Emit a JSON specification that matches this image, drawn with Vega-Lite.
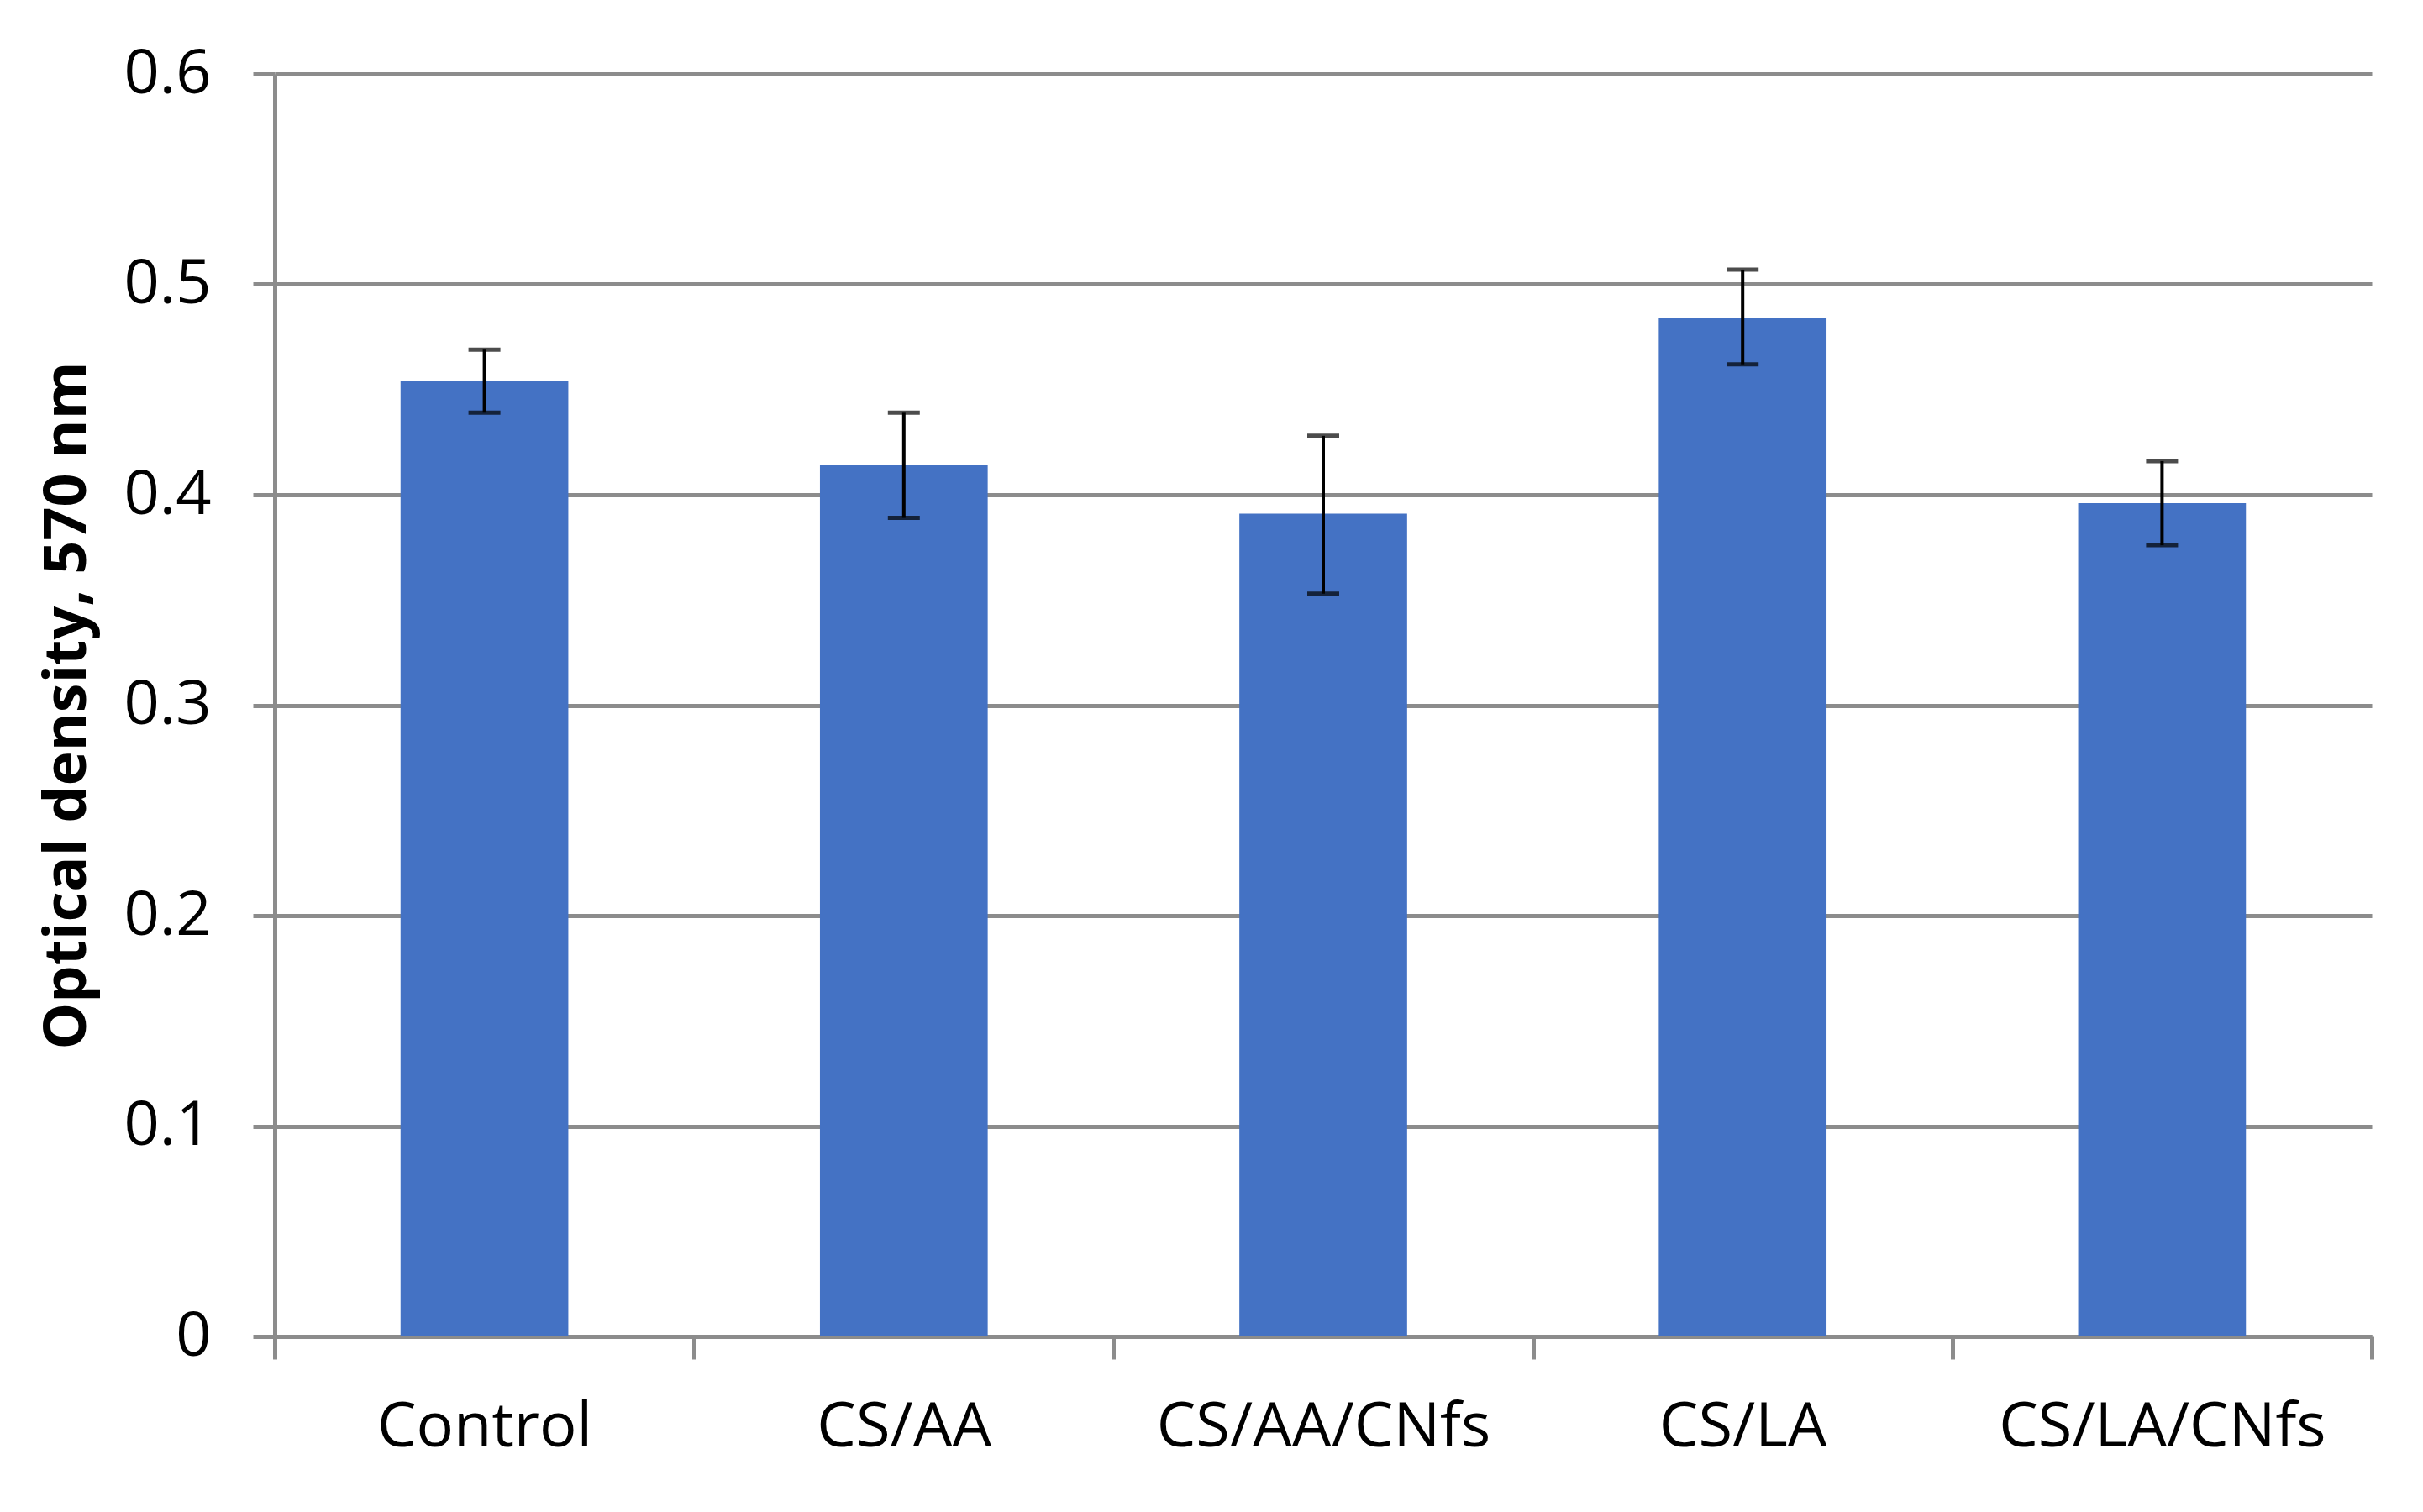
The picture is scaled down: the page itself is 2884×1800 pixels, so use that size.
{
  "$schema": "https://vega.github.io/schema/vega-lite/v6.json",
  "width": 2496,
  "height": 1503,
  "autosize": {"type": "none"},
  "padding": {"left": 327, "top": 88, "right": 61, "bottom": 209},
  "background": "white",
  "config": {
    "view": {"stroke": null},
    "font": "Open Sans"
  },
  "data": {
    "values": [
      {"group": "Control", "value": 0.454, "lo": 0.439, "hi": 0.469},
      {"group": "CS/AA", "value": 0.414, "lo": 0.389, "hi": 0.439},
      {"group": "CS/AA/CNfs", "value": 0.391, "lo": 0.353, "hi": 0.428},
      {"group": "CS/LA", "value": 0.484, "lo": 0.462, "hi": 0.507},
      {"group": "CS/LA/CNfs", "value": 0.396, "lo": 0.376, "hi": 0.416}
    ]
  },
  "encoding": {
    "x": {
      "field": "group",
      "type": "nominal",
      "sort": null,
      "scale": {"paddingInner": 0, "paddingOuter": 0},
      "axis": {
        "title": null,
        "labelAngle": 0,
        "labelFont": "Open Sans",
        "labelFontSize": 74,
        "labelColor": "black",
        "labelLimit": 0,
        "labelPadding": 45,
        "tickBand": "extent",
        "tickSize": 27,
        "tickWidth": 5,
        "tickColor": "#8c8c8c",
        "domainColor": "#8c8c8c",
        "domainWidth": 5,
        "grid": false
      }
    }
  },
  "layer": [
    {
      "mark": {"type": "bar", "color": "#4472C4", "width": {"band": 0.4}},
      "encoding": {
        "y": {
          "field": "value",
          "type": "quantitative",
          "scale": {"domain": [0, 0.6], "nice": false},
          "axis": {
            "title": "Optical density, 570 nm",
            "titleFont": "Open Sans",
            "titleFontSize": 70,
            "titleFontWeight": "bold",
            "titleColor": "black",
            "titlePadding": 30,
            "values": [0, 0.1, 0.2, 0.3, 0.4, 0.5, 0.6],
            "format": "~g",
            "labelFont": "Open Sans",
            "labelFontSize": 74,
            "labelColor": "black",
            "labelPadding": 50,
            "tickSize": 26,
            "tickWidth": 5,
            "tickColor": "#8c8c8c",
            "domainColor": "#8c8c8c",
            "domainWidth": 5,
            "grid": true,
            "gridColor": "#8c8c8c",
            "gridWidth": 5
          }
        }
      }
    },
    {
      "mark": {
        "type": "errorbar",
        "color": "black",
        "ticks": {"size": 38, "thickness": 5, "color": "black"},
        "rule": {"strokeWidth": 4, "color": "black"}
      },
      "encoding": {
        "y": {"field": "lo", "type": "quantitative", "title": "Optical density, 570 nm"},
        "y2": {"field": "hi"}
      }
    }
  ]
}
